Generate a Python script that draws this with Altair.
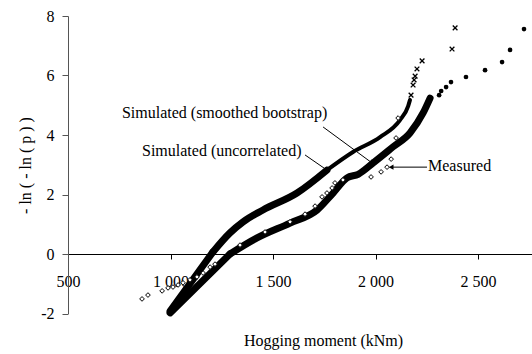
import altair as alt
import pandas as pd

# Simulated (uncorrelated): steep straight start, dense thick part, thinner upper part, then x markers
unc_start_x = [998, 1207]
unc_start_y = [-1.92, 0.07]
unc_thick_x = [1207, 1290, 1354, 1451, 1617, 1763]
unc_thick_y = [0.07, 0.71, 1.08, 1.48, 2.05, 2.82]
unc_thin_x = [1763, 1890, 2022, 2119, 2159, 2168]
unc_thin_y = [2.82, 3.43, 3.93, 4.50, 4.97, 5.18]
unc_pts_x = [2173, 2183, 2188, 2193, 2202, 2227, 2373, 2388]
unc_pts_y = [5.34, 5.68, 5.85, 5.98, 6.22, 6.49, 6.89, 7.60]

# Simulated (smoothed bootstrap)
boot_start_x = [998, 1290]
boot_start_y = [-1.98, 0.0]
boot_line_x = [1290, 1422, 1583, 1715, 1793, 1861, 1915, 1988, 2085, 2168, 2232, 2266]
boot_line_y = [0.0, 0.54, 1.04, 1.48, 2.05, 2.56, 2.68, 3.06, 3.60, 4.07, 4.74, 5.24]
boot_pts_x = [2310, 2320, 2344, 2368, 2441, 2534, 2617, 2656, 2724]
boot_pts_y = [5.34, 5.48, 5.61, 5.78, 5.95, 6.18, 6.45, 6.86, 7.56]

# Measured
meas_x = [861, 890, 959, 988, 1012, 1037, 1061, 1095, 1129, 1159, 1193, 1217,
          1339, 1461, 1583, 1656, 1705, 1739, 1763, 1788, 1802, 1841, 1978,
          2027, 2056, 2076, 2100, 2110]
meas_y = [-1.51, -1.38, -1.24, -1.14, -1.11, -1.04, -0.97, -0.87, -0.77, -0.64, -0.44, -0.34,
          0.30, 0.74, 1.08, 1.34, 1.61, 1.92, 2.05, 2.22, 2.39, 2.49, 2.59,
          2.76, 2.92, 3.19, 3.90, 4.57]

# Annotations
ann_text = ["Simulated (smoothed bootstrap)", "Simulated (uncorrelated)", "Measured"]
ann_x = [763, 861, 2256]
ann_y = [4.74, 3.46, 2.96]
arr_x1 = [1744, 1656, 2251]
arr_y1 = [4.27, 3.33, 2.92]
arr_x2 = [1983, 1763, 2076]
arr_y2 = [3.06, 2.82, 2.92]
arr_angle = [126, 124, 270]

x_ticks = [500, 1000, 1500, 2000, 2500]
y_ticks = [-2, 0, 2, 4, 6, 8]

FONT = "Liberation Serif"

xs = alt.Scale(domain=[500, 2763], nice=False, zero=False)
ys = alt.Scale(domain=[-2, 8], nice=False, zero=False)

x_axis = alt.Axis(values=x_ticks, grid=False, offset=-59.5, tickSize=5, labelPadding=14,
                  labelExpr="replace(format(datum.value, ','), ',', ' ')",
                  title="Hogging moment (kNm)", titleX=255, titleY=86,
                  titleBaseline="middle", titleAlign="center",
                  domainColor="black", tickColor="black")
y_axis = alt.Axis(values=y_ticks, grid=False, tickSize=6, labelPadding=8,
                  labelExpr="datum.value < 0 ? '-' + abs(datum.value) : '' + datum.value",
                  title="- ln ( - ln ( p ) )", titleX=-43, titleY=149, titleAngle=-90,
                  titleBaseline="middle", titleAlign="center",
                  domainColor="#555", tickColor="#555")


def enc():
    return dict(x=alt.X("x:Q", scale=xs), y=alt.Y("y:Q", scale=ys))


def line(xv, yv, w, interp):
    return alt.Chart(pd.DataFrame({"x": xv, "y": yv})).mark_line(
        color="black", strokeWidth=w, strokeCap="round", strokeJoin="round", interpolate=interp
    ).encode(**enc())


unc_start = alt.Chart(pd.DataFrame({"x": unc_start_x, "y": unc_start_y})).mark_line(
    color="black", strokeWidth=7, strokeCap="round", strokeJoin="round"
).encode(x=alt.X("x:Q", scale=xs, axis=x_axis), y=alt.Y("y:Q", scale=ys, axis=y_axis))
unc_thick = line(unc_thick_x, unc_thick_y, 7, "monotone")
unc_thin = line(unc_thin_x, unc_thin_y, 4, "monotone")

unc_pts = alt.Chart(pd.DataFrame({"x": unc_pts_x, "y": unc_pts_y})).mark_point(
    shape="M-1,-1L1,1M-1,1L1,-1", filled=False, color="black", strokeWidth=1.3, size=22, opacity=1
).encode(**enc())

boot_start = line(boot_start_x, boot_start_y, 7, "linear")
boot_line = line(boot_line_x, boot_line_y, 7, "monotone")

boot_pts = alt.Chart(pd.DataFrame({"x": boot_pts_x, "y": boot_pts_y})).mark_point(
    shape="circle", filled=True, color="black", size=22, opacity=1
).encode(**enc())

meas = alt.Chart(pd.DataFrame({"x": meas_x, "y": meas_y})).mark_point(
    shape="diamond", filled=False, fill="white", fillOpacity=1, stroke="black",
    strokeWidth=1, size=22, opacity=1
).encode(**enc())

ann_df = pd.DataFrame({"t": ann_text, "x": ann_x, "y": ann_y})
ann = alt.Chart(ann_df).mark_text(
    align="left", baseline="middle", font=FONT, fontSize=16, color="black"
).encode(x=alt.X("x:Q", scale=xs), y=alt.Y("y:Q", scale=ys), text="t:N")

arr_df = pd.DataFrame({"x": arr_x1, "y": arr_y1, "x2": arr_x2, "y2": arr_y2, "a": arr_angle})
arr = alt.Chart(arr_df).mark_rule(color="black", strokeWidth=1).encode(
    x=alt.X("x:Q", scale=xs), y=alt.Y("y:Q", scale=ys), x2="x2:Q", y2="y2:Q")
heads = alt.Chart(arr_df).mark_point(
    shape="triangle-up", filled=True, color="black", size=30, opacity=1
).encode(x=alt.X("x2:Q", scale=xs), y=alt.Y("y2:Q", scale=ys),
         angle=alt.Angle("a:Q", scale=None))

chart = alt.layer(unc_start, unc_thick, unc_thin, unc_pts, boot_start, boot_line, boot_pts,
                  meas, arr, heads, ann).properties(
    width=464, height=297.5,
    autosize=alt.AutoSizeParams(type="none"),
    padding={"left": 68, "top": 16, "right": 0, "bottom": 40.5},
    background="white",
).configure_view(stroke=None).configure_axis(
    labelFont=FONT, titleFont=FONT, labelFontSize=16, titleFontSize=16,
    labelColor="black", titleColor="black", titleFontWeight="normal", labelFlush=False
)

chart.save("out.html", embed_options={"renderer": "svg", "actions": False})
